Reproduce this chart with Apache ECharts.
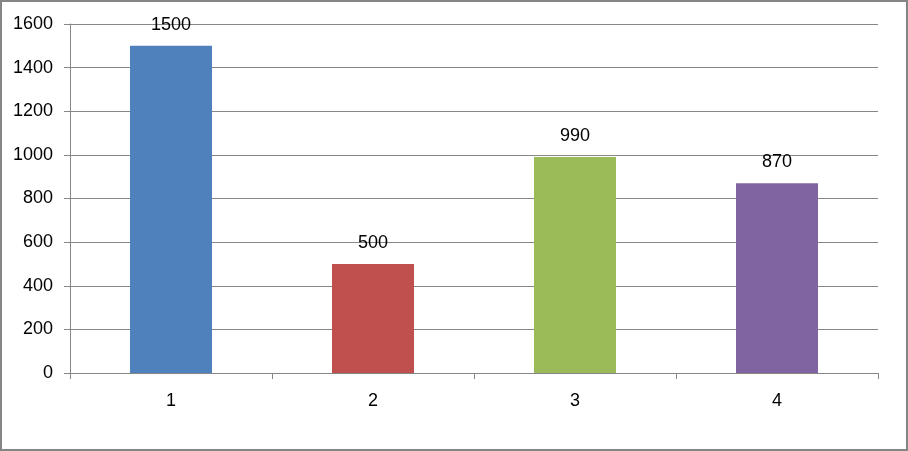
<!DOCTYPE html>
<html><head><meta charset="utf-8">
<script src="https://cdn.jsdelivr.net/npm/echarts@6/dist/echarts.min.js"></script>
<style>
html,body{margin:0;padding:0;background:#fff;}
#wrap{width:908px;height:451px;box-sizing:border-box;border:2px solid #858585;position:relative;background:#fff;}
#c{position:absolute;left:-2px;top:-2px;width:908px;height:451px;}
</style></head>
<body><div id="wrap"><div id="c"></div></div>
<script>
const categories = ['1','2','3','4'];
const values = [1500, 500, 990, 870];
const colors = ['#4F81BD','#C0504D','#9BBB59','#8064A2'];
const yTicks = [0,200,400,600,800,1000,1200,1400,1600];

const chart = echarts.init(document.getElementById('c'), null, {renderer:'canvas'});
const font = '"Liberation Sans", Arial, sans-serif';
chart.setOption({
  animation:false,
  grid:{left:70,right:30,top:24,bottom:78,containLabel:false},
  xAxis:{type:'category',data:categories,
    axisLine:{show:true,lineStyle:{color:'#868686',width:1}},
    axisTick:{show:true,length:6,alignWithLabel:false,lineStyle:{color:'#868686'}},
    axisLabel:{color:'#000',fontSize:18,fontFamily:font,margin:19},
    splitLine:{show:false}},
  yAxis:{type:'value',min:yTicks[0],max:yTicks[yTicks.length-1],interval:200,
    axisLine:{show:true,lineStyle:{color:'#868686',width:1}},
    axisTick:{show:true,length:6,lineStyle:{color:'#868686'}},
    axisLabel:{color:'#000',fontSize:18,fontFamily:font,margin:17,formatter:v=>String(v)},
    splitLine:{show:true,lineStyle:{color:'#868686',width:1}}},
  series:[{type:'bar',barWidth:'40.6%',
    data:values.map((v,i)=>({value:v,itemStyle:{color:colors[i]}})),
    label:{show:true,position:'top',distance:12,color:'#000',fontSize:18,fontFamily:font}
  }]
});
</script></body></html>
